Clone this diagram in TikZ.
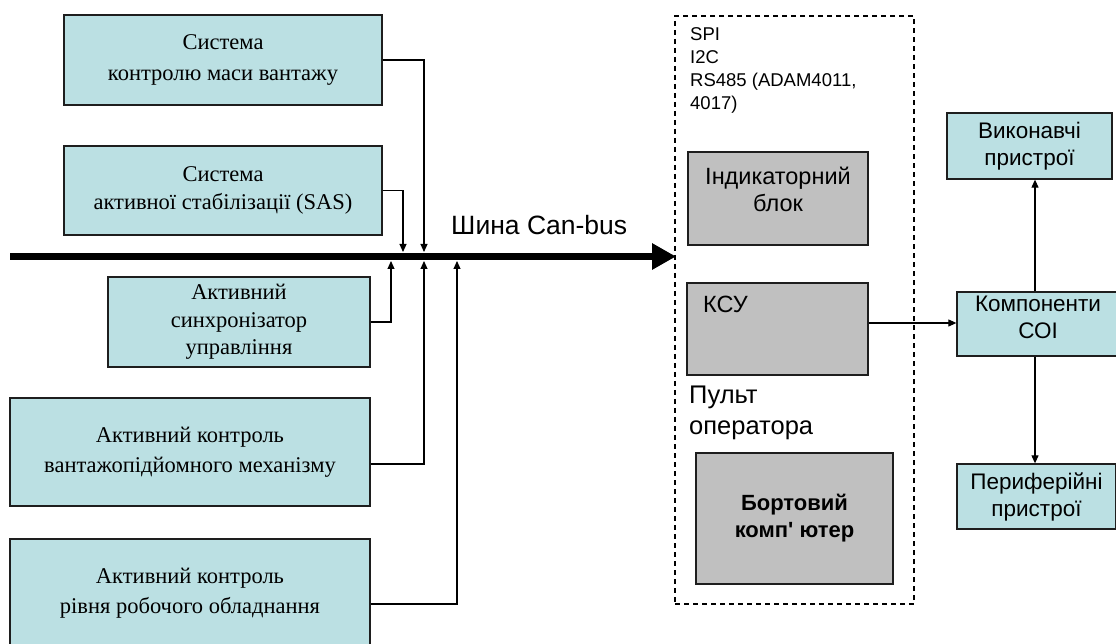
\documentclass[tikz,border=0pt]{standalone}
\usepackage{fontspec}
\setmainfont{Liberation Serif}
\newfontfamily\sansf{Liberation Sans}
\usetikzlibrary{arrows.meta,calc}
\definecolor{boxblue}{RGB}{187,224,227}
\definecolor{boxgray}{RGB}{192,192,192}
\definecolor{edge}{RGB}{30,30,30}
\tikzset{
  x=1pt, y=-1pt,
  lbox/.style={draw=edge, line width=1.3pt, fill=boxblue, align=center, inner sep=0pt,
    font=\fontsize{22.5}{30}\selectfont},
  rbox/.style={draw=edge, line width=1.3pt, fill=boxblue, align=center, inner sep=0pt,
    font=\sansf\fontsize{22.5}{27}\selectfont},
  gbox/.style={draw=edge, line width=1.3pt, fill=boxgray, inner sep=0pt},
  stext/.style={font=\sansf\fontsize{23.5}{27}\selectfont, inner sep=0pt},
  link/.style={draw=black, line width=1.1pt, -{Triangle[length=8pt,width=7pt]}},
  dashbox/.style={draw=black, line width=1.2pt, dash pattern=on 5pt off 4pt, inner sep=0pt},
}
\begin{document}
\begin{tikzpicture}
\useasboundingbox (0,0) rectangle (1116,644);
\begin{scope}
\clip (0,0) rectangle (1116,644);

% subsystems on the CAN bus
\node[lbox, font=\fontsize{22.5}{31}\selectfont, minimum width=318pt, minimum height=90pt] (b1) at (223,60)
  {Система\\контролю маси вантажу};
\node[lbox, font=\fontsize{22.5}{28.5}\selectfont, minimum width=318pt, minimum height=89pt] (b2) at (223,190.5)
  {Система\\активної стабілізації (SAS)};
\node[lbox, font=\fontsize{22.5}{27.5}\selectfont, minimum width=262pt, minimum height=90pt] (b3) at (239,322)
  {Активний\\синхронізатор\\управління};
\node[lbox, minimum width=360pt, minimum height=108pt] (b4) at (190,452)
  {Активний контроль\\вантажопідйомного механізму};
\node[lbox, minimum width=360pt, minimum height=108pt] (b5) at (190,593)
  {Активний контроль\\рівня робочого обладнання};

% the bus itself
\coordinate (busL) at (10,256.5);
\coordinate (busR) at (676,256.5);
\draw[line width=7.5pt, -{Triangle[length=24pt,width=25pt]}] (busL) -- (busR);
\node[stext, font=\sansf\fontsize{26.5}{30}\selectfont, anchor=base west] (buslbl) at (451,235) {Шина Can-bus};

% taps onto the bus
\coordinate (t1) at (424,252);
\coordinate (t2) at (403,252);
\coordinate (t3) at (391,261);
\coordinate (t4) at (424,261);
\coordinate (t5) at (457,261);
\draw[link] (b1.east) -| (t1);
\draw[link] (b2.east) -| (t2);
\draw[link] (b3.east) -| (t3);
\draw[link] ([yshift=-12pt]b4.east) -| (t4);
\draw[link] ([yshift=-11pt]b5.east) -| (t5);

% operator console
\node[dashbox, minimum width=239pt, minimum height=588pt] (pult) at (794.5,310) {};
\node[stext, font=\sansf\fontsize{18.5}{23}\selectfont, align=left, anchor=north west] (ifaces) at (690,27)
  {SPI\\I2C\\RS485 (ADAM4011,\\4017)};
\node[gbox, minimum width=180pt, minimum height=93pt] (ind) at (778,198.5) {};
\node[stext, align=center] (indt) at (778,189) {Індикаторний\\блок};
\node[gbox, minimum width=181pt, minimum height=92pt] (ksu) at (777.5,329) {};
\node[stext, anchor=west] (ksut) at (703,304) {КСУ};
\node[stext, font=\sansf\fontsize{25.5}{31}\selectfont, align=left, anchor=west] (pultt) at (689,412.5)
  {Пульт\\оператора};
\node[gbox, minimum width=197pt, minimum height=131pt, align=center,
  font=\sansf\bfseries\fontsize{22}{27}\selectfont] (bk) at (794.5,518.5)
  {Бортовий\\комп' ютер};

% output side
\node[rbox, minimum width=165pt, minimum height=66pt] (vyk) at (1029.5,146) {Виконавчі\\пристрої};
\node[rbox, minimum width=161pt, minimum height=64pt] (komp) at (1037.5,324) {};
\node[rbox, draw=none, fill=none] (kompt) at (1038,317) {Компоненти\\СОІ};
\node[rbox, minimum width=159pt, minimum height=65pt] (per) at (1036.5,496.5) {Периферійні\\пристрої};

\draw[link] ([yshift=6pt]ksu.east) coordinate (k1) -- (k1 -| komp.west);
\draw[link] ([xshift=-2.5pt]komp.north) coordinate (k2) -- (k2 |- vyk.south);
\draw[link] ([xshift=-2.5pt]komp.south) coordinate (k3) -- (k3 |- per.north);
\end{scope}
\end{tikzpicture}
\end{document}
